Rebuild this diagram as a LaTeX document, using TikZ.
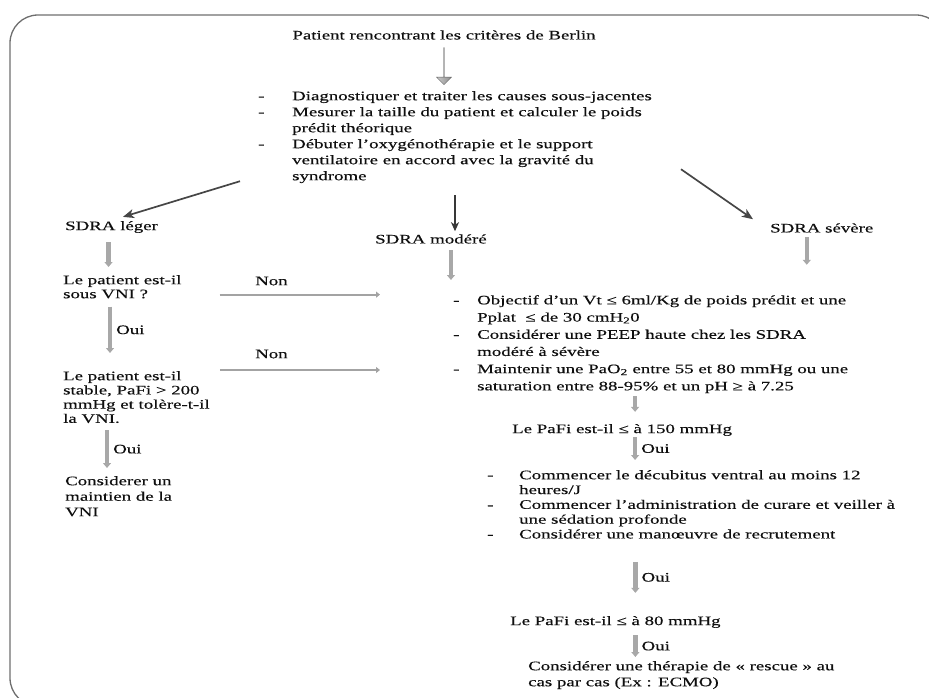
\documentclass[tikz,border=0pt]{standalone}
\usepackage{fontspec}
\setmainfont{Liberation Serif}[FakeStretch=1.45,FakeBold=0.3]
\usepackage{tikz}
\usetikzlibrary{arrows.meta,positioning,shapes.arrows,calc}
\definecolor{frameGray}{RGB}{110,110,110}
\definecolor{txtBlack}{RGB}{15,15,15}
\definecolor{arrDark}{RGB}{70,70,70}
\definecolor{arrLight}{RGB}{168,168,168}
\definecolor{arrMid}{RGB}{140,140,140}
\newcommand{\dsh}[1]{\makebox[#1][l]{-}}

\begin{document}
\begin{tikzpicture}[x=1pt,y=-1pt,
    txt/.style={inner sep=0pt, text=txtBlack, align=left, font=\fontsize{13}{#1}\selectfont},
    txt/.default=15.5,
    diagarr/.style={arrDark, line width=1.7pt, -{Stealth[length=11pt,width=9pt,inset=3pt]}},
    darkarr/.style={arrDark!80!black, line width=1.3pt, -{Stealth[length=9pt,width=8pt,inset=2.5pt]}},
    smallarr/.style={arrLight, line width=4.5pt, -{Triangle[length=5pt,width=8pt]}},
    nonarr/.style={arrMid!80, line width=2pt, -{Triangle[length=4pt,width=6pt]}},
    ouilbl/.style={txt, anchor=west, right=4pt}]

    % frame
    \begin{scope}
        \clip (0,0) rectangle (929,698);
        \draw[frameGray, line width=1.3pt, rounded corners=28pt] (10,15) rectangle (944,706);
    \end{scope}
    \useasboundingbox (0,0) rectangle (929,698);

    % top
    \node[txt] (berlin) at (444,35) {Patient rencontrant les critères de Berlin};
    \node[single arrow, rotate=-90, draw=arrMid!70!black, left color=arrLight!60, right color=arrMid,
          minimum width=15pt, minimum height=37pt, single arrow head extend=5pt, inner sep=0pt]
          (bigarr) at (444,66) {};
    \node[txt=16, anchor=north west] (causes) at (258,91) {%
        \dsh{34pt}Diagnostiquer et traiter les causes sous-jacentes\\
        \dsh{34pt}Mesurer la taille du patient et calculer le poids\\
        \hspace*{34pt}prédit théorique\\
        \dsh{34pt}Débuter l’oxygénothérapie et le support\\
        \hspace*{34pt}ventilatoire en accord avec la gravité du\\
        \hspace*{34pt}syndrome};

    % three severities
    \node[txt, anchor=west] (leger) at (65,227) {SDRA léger};
    \node[txt, anchor=west] (modere) at (375,239) {SDRA modéré};
    \node[txt, anchor=west] (severe) at (770,228) {SDRA sévère};

    \draw[diagarr] ($(causes.south west)+(-18,-2)$) -- ($(leger.north west)+(58,-4)$);
    \draw[diagarr] ($(causes.south east)+(29,-14)$) -- ($(severe.north west)+(-17,-4)$);
    \draw[darkarr] ($(causes.south)+(0,12)$) -- ($(causes.south |- modere.north)+(0,-3)$);

    % left column
    \node[txt=14, anchor=north west] (vni) at (63,275) {Le patient est-il\\ sous VNI ?};
    \node[txt=14.2, anchor=north west] (stable) at (63,371) {Le patient est-il\\ stable, PaFi > 200\\ mmHg et tolère-t-il\\ la VNI.};
    \node[txt=15.5, anchor=north west] (maint) at (65,476) {Considerer un\\ maintien de la\\ VNI};

    \draw[smallarr] ($(leger.south)+(-3,9)$) -- ($(leger.south |- vni.north)+(-3,-8)$);
    \draw[smallarr] ($(vni.south west)+(47,8)$) -- ($(vni.south west |- stable.north)+(47,-18)$)
        node[ouilbl, midway] (oui1) {Oui};
    \draw[smallarr] ($(stable.south west)+(44,7)$) -- ($(stable.south west |- maint.north)+(44,-8)$)
        node[ouilbl, midway] (oui2) {Oui};

    % moderate branch
    \node[txt=17.2, anchor=north west] (objectif) at (453,295) {%
        \dsh{24pt}Objectif d’un Vt ≤ 6ml/Kg de poids prédit et une\\
        \hspace*{24pt}Pplat~~≤ de 30 cmH\textsubscript{2}0\\
        \dsh{24pt}Considérer une PEEP haute chez les SDRA\\
        \hspace*{24pt}modéré à sévère\\
        \dsh{24pt}Maintenir une PaO\textsubscript{2} entre 55 et 80 mmHg ou une\\
        \hspace*{24pt}saturation entre 88-95\% et un pH ≥ à 7.25};

    \draw[smallarr] ($(modere.south)+(20,6)$) -- ($(modere.south |- objectif.north)+(20,-15)$);
    \draw[smallarr] ($(severe.south)+(-15,4)$) -- ($(severe.south)+(-15,32)$);

    \node[txt, anchor=west] (nonA) at (255,281) {Non};
    \node[txt, anchor=west] (nonB) at (255,354) {Non};
    \draw[nonarr] ($(vni.south east)+(38,-4)$) -- ($(objectif.west |- vni.south east)+(-73,-4)$);
    \draw[nonarr] ($(stable.north east)+(10,-1)$) -- ($(objectif.west |- stable.north east)+(-73,-1)$);

    % severe branch
    \node[txt, anchor=west] (pafiA) at (512,430) {Le PaFi est-il ≤ à 150 mmHg};
    \draw[smallarr] ($(objectif.south -| pafiA.north)+(13,3)$) -- ($(pafiA.north)+(13,-12)$);

    \node[txt=14.8, anchor=north west] (prone) at (487,470) {%
        \dsh{32pt}Commencer le décubitus ventral au moins 12\\
        \hspace*{32pt}heures/J\\
        \dsh{32pt}Commencer l’administration de curare et veiller à\\
        \hspace*{32pt}une sédation profonde\\
        \dsh{32pt}Considérer une manœuvre de recrutement};
    \draw[smallarr] ($(pafiA.south)+(13,1)$) -- ($(pafiA.south |- prone.north)+(13,-10)$)
        node[ouilbl, midway] (oui3) {Oui};

    \node[txt, anchor=west] (pafiB) at (510,622) {Le PaFi est-il ≤ à 80 mmHg};
    \draw[smallarr] ($(prone.south -| pafiB.north)+(20,23)$) -- ($(pafiB.north)+(20,-23)$)
        node[ouilbl, midway] (oui4) {Oui};

    \node[txt=16, anchor=north west] (rescue) at (528,661) {Considérer une thérapie de « rescue » au\\ cas par cas (Ex : ECMO)};
    \draw[smallarr] ($(pafiB.south)+(20,7)$) -- ($(pafiB.south |- rescue.north)+(20,-4)$)
        node[ouilbl, midway] (oui5) {Oui};
\end{tikzpicture}
\end{document}
